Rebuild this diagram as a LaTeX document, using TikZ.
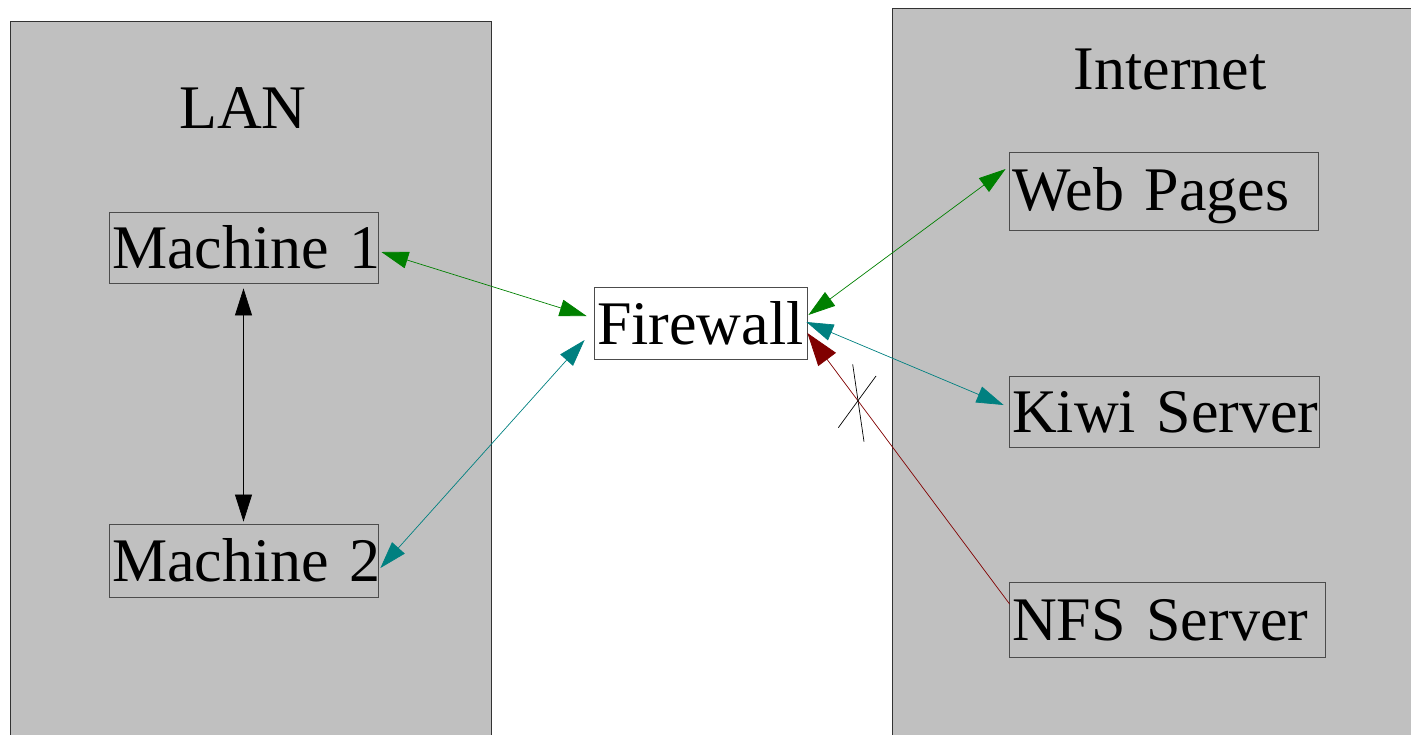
\documentclass[tikz,border=0pt]{standalone}
\usepackage{fontspec}
\setmainfont{Liberation Serif}
\usetikzlibrary{arrows.meta,calc}
\definecolor{zonegray}{RGB}{192,192,192}
\definecolor{lgreen}{RGB}{0,128,0}
\definecolor{lteal}{RGB}{0,128,128}
\definecolor{lred}{RGB}{128,0,0}
\tikzset{
  zone/.style={fill=zonegray, draw=black!80, line width=0.8pt},
  big/.style={font=\fontsize{62}{70}\selectfont},
  hostbox/.style={big, draw=black!70, line width=0.8pt, rectangle, inner xsep=3pt, inner ysep=0pt,
     align=left, text height=42pt, text depth=0pt},
  tip/.style={Triangle[length=27pt,width=17pt]},
  link/.style={line width=0.7pt, {Triangle[length=27pt,width=17pt]}-{Triangle[length=27pt,width=17pt]}},
}
\begin{document}
\begin{tikzpicture}[x=1pt,y=-1pt]
\useasboundingbox (0,0) rectangle (1411,734);
% zones
\draw[zone] (10,21) rectangle (491,760);
\draw[zone] (892,8) rectangle (1430,760);
\node[big] (lan) at (243,108) {LAN};
\node[big] (inet) at (1170,70) {Internet};
% hosts
\node[hostbox, fill=zonegray, text width=263pt, minimum height=71pt] (m1) at (243.5,247.5) {\mbox{Machine 1}};
\node[hostbox, fill=zonegray, text width=263pt, minimum height=73pt] (m2) at (243.5,560.5) {\mbox{Machine 2}};
\node[hostbox, fill=white, text width=207pt, minimum height=72pt] (fw) at (700.5,323) {\mbox{Firewall}};
\node[hostbox, fill=zonegray, text width=303pt, minimum height=78pt, text height=38pt] (web) at (1163.5,191) {\mbox{Web Pages}};
\node[hostbox, fill=zonegray, text width=304pt, minimum height=71pt] (kiwi) at (1164,411.5) {\mbox{Kiwi Server}};
\node[hostbox, fill=zonegray, text width=310pt, minimum height=75pt] (nfs) at (1167,619.5) {\mbox{NFS Server}};
% connectors
\draw[link, black] ($(m1.south)+(0,5)$) -- ($(m2.north)+(0,-2)$);
\draw[link, lgreen] ($(m1.east)+(3,4.5)$) -- ($(fw.west)+(-7,-7)$);
\draw[link, lteal] ($(m2.east)+(2,7.5)$) -- ($(fw.west)+(-9,17)$);
\draw[link, lgreen] ($(fw.east)+(1,-8)$) -- ($(web.west)+(-3,-22)$);
\draw[link, lteal] ($(fw.east)+(-1,-1)$) -- ($(kiwi.west)+(-5,-6.5)$);
\draw[line width=0.7pt, lred, -{Triangle[length=33pt,width=22pt]}] ($(nfs.west)+(1,-15.5)$) -- ($(fw.east)+(0,10)$);
% blocked mark
\coordinate (x1) at (852.7,364.3);
\coordinate (x2) at (864,441.7);
\coordinate (x3) at (838.3,427.7);
\coordinate (x4) at (876,376);
\draw[black, line width=0.7pt] (x1) -- (x2);
\draw[black, line width=0.7pt] (x3) -- (x4);
\end{tikzpicture}
\end{document}
